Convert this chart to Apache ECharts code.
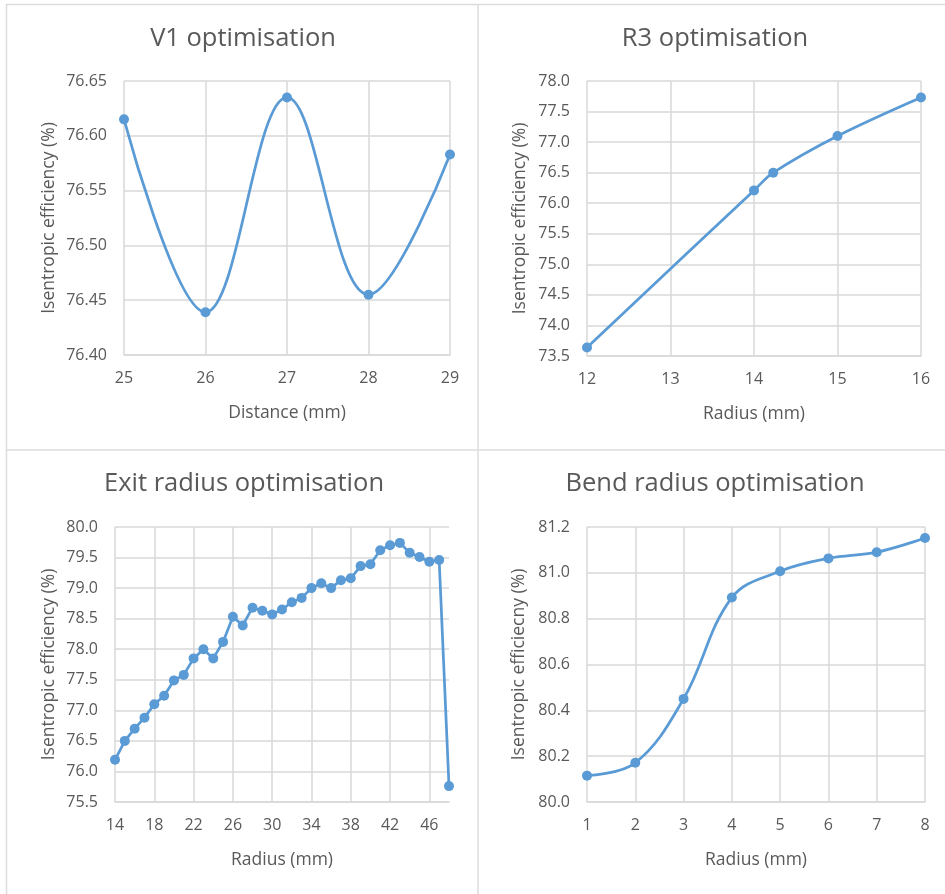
<!DOCTYPE html>
<html>
<head>
<meta charset="utf-8">
<script src="https://cdn.jsdelivr.net/npm/echarts@6/dist/echarts.min.js"></script>
<style>
html,body{margin:0;padding:0;background:#fff;}
#chart{width:945px;height:894px;}
</style>
</head>
<body>
<div id="chart"></div>
<script>
// ---- Data ----
const titles = ['V1 optimisation', 'R3 optimisation', 'Exit radius optimisation', 'Bend radius optimisation'];
const xNames = ['Distance (mm)', 'Radius (mm)', 'Radius (mm)', 'Radius (mm)'];
const yNames = ['Isentropic efficiency (%)', 'Isentropic efficiency (%)', 'Isentropic efficiency (%)', 'Isentropic efficiecny (%)'];

const v1X = [25, 26, 27, 28, 29];
const v1Y = [76.615, 76.439, 76.635, 76.455, 76.583];

const r3X = [12, 14, 14.23, 15, 16];
const r3Y = [73.64, 76.21, 76.50, 77.10, 77.73];

const exitX = [14, 15, 16, 17, 18, 19, 20, 21, 22, 23, 24, 25, 26, 27, 28, 29, 30, 31,
               32, 33, 34, 35, 36, 37, 38, 39, 40, 41, 42, 43, 44, 45, 46, 47, 48];
const exitY = [76.19, 76.50, 76.70, 76.88, 77.10, 77.24, 77.49, 77.58, 77.85, 78.00, 77.85, 78.12,
               78.53, 78.39, 78.68, 78.63, 78.57, 78.65, 78.77, 78.84, 79.00, 79.08, 79.00, 79.13,
               79.16, 79.36, 79.39, 79.62, 79.70, 79.74, 79.58, 79.51, 79.43, 79.46, 75.76];

const bendX = [1, 2, 3, 4, 5, 6, 7, 8];
const bendY = [80.115, 80.171, 80.45, 80.892, 81.007, 81.063, 81.09, 81.152];

// axis ranges
const xMin = [25, 12, 14, 1], xMax = [29, 16, 48, 8], xInt = [1, 1, 4, 1];
const yMin = [76.40, 73.5, 75.5, 80.0], yMax = [76.65, 78.0, 80.0, 81.2], yInt = [0.05, 0.5, 0.5, 0.2];
const yDec = [2, 1, 1, 1];
const smoothVals = [0.38, 0.35, false, 0.38];

// ---- Layout ----
const grids = [
  {left: 124, top: 81, width: 326, height: 274},
  {left: 587, top: 81, width: 334, height: 275},
  {left: 115, top: 527, width: 334, height: 275},
  {left: 587, top: 527, width: 338, height: 275}
];
const titlePos = [[243, 39], [715, 39], [244, 484], [715, 484]];
const yGaps = [66, 58, 57, 59];

const FONT = '"Open Sans", sans-serif';
const TXT = '#595959';
const GRID = '#d9d9d9';
const BLUE = '#5b9bd5';

const pairs = (xs, ys) => xs.map((x, i) => [x, ys[i]]);
const seriesData = [pairs(v1X, v1Y), pairs(r3X, r3Y), pairs(exitX, exitY), pairs(bendX, bendY)];

// exit-radius panel has no vertical grid line at its right end (48)
const exitGridColors = [GRID, GRID, GRID, GRID, GRID, GRID, GRID, GRID, GRID, 'rgba(0,0,0,0)'];

const chart = echarts.init(document.getElementById('chart'), null, {renderer: 'canvas'});

const option = {
  animation: false,
  backgroundColor: '#fff',
  grid: grids.map(g => Object.assign({containLabel: false}, g)),
  xAxis: grids.map((g, i) => ({
    type: 'value', gridIndex: i, min: xMin[i], max: xMax[i], interval: xInt[i],
    name: xNames[i], nameLocation: 'middle', nameGap: 49,
    nameTextStyle: {color: TXT, fontFamily: FONT, fontSize: 17.5},
    axisLine: {show: true, lineStyle: {color: GRID, width: 1.5}},
    axisTick: {show: false},
    axisLabel: {color: TXT, fontFamily: FONT, fontSize: 16, margin: 15, showMaxLabel: i !== 2},
    splitLine: {show: true, lineStyle: {color: i === 2 ? exitGridColors : GRID, width: 1.5}}
  })),
  yAxis: grids.map((g, i) => ({
    type: 'value', gridIndex: i, min: yMin[i], max: yMax[i], interval: yInt[i],
    name: yNames[i], nameLocation: 'middle', nameGap: yGaps[i], nameRotate: 90,
    nameTextStyle: {color: TXT, fontFamily: FONT, fontSize: 17.5},
    axisLine: {show: false},
    axisTick: {show: false},
    axisLabel: {color: TXT, fontFamily: FONT, fontSize: 16, margin: 17,
                formatter: v => v.toFixed(yDec[i])},
    splitLine: {show: true, lineStyle: {color: GRID, width: 1.5}}
  })),
  series: seriesData.map((d, i) => ({
    type: 'line', xAxisIndex: i, yAxisIndex: i, data: d,
    smooth: smoothVals[i],
    symbol: 'circle', symbolSize: 10,
    lineStyle: {color: BLUE, width: 2.75},
    itemStyle: {color: BLUE},
    z: 3
  })),
  graphic: [
    {type: 'line', shape: {x1: 6, y1: 4.5, x2: 945, y2: 4.5}, style: {stroke: '#dcdcdc', lineWidth: 1.5}, silent: true},
    {type: 'line', shape: {x1: 6.5, y1: 4, x2: 6.5, y2: 894}, style: {stroke: '#dcdcdc', lineWidth: 1.5}, silent: true},
    {type: 'line', shape: {x1: 478, y1: 4, x2: 478, y2: 894}, style: {stroke: '#dcdcdc', lineWidth: 1.5}, silent: true},
    {type: 'line', shape: {x1: 6, y1: 450, x2: 945, y2: 450}, style: {stroke: '#dcdcdc', lineWidth: 1.5}, silent: true}
  ].concat(titles.map((t, i) => ({
    type: 'text', x: titlePos[i][0], y: titlePos[i][1], silent: true,
    style: {text: t, fill: TXT, font: '25.5px ' + FONT, textAlign: 'center', textVerticalAlign: 'middle'}
  })))
};
chart.setOption(option);
</script>
</body>
</html>
